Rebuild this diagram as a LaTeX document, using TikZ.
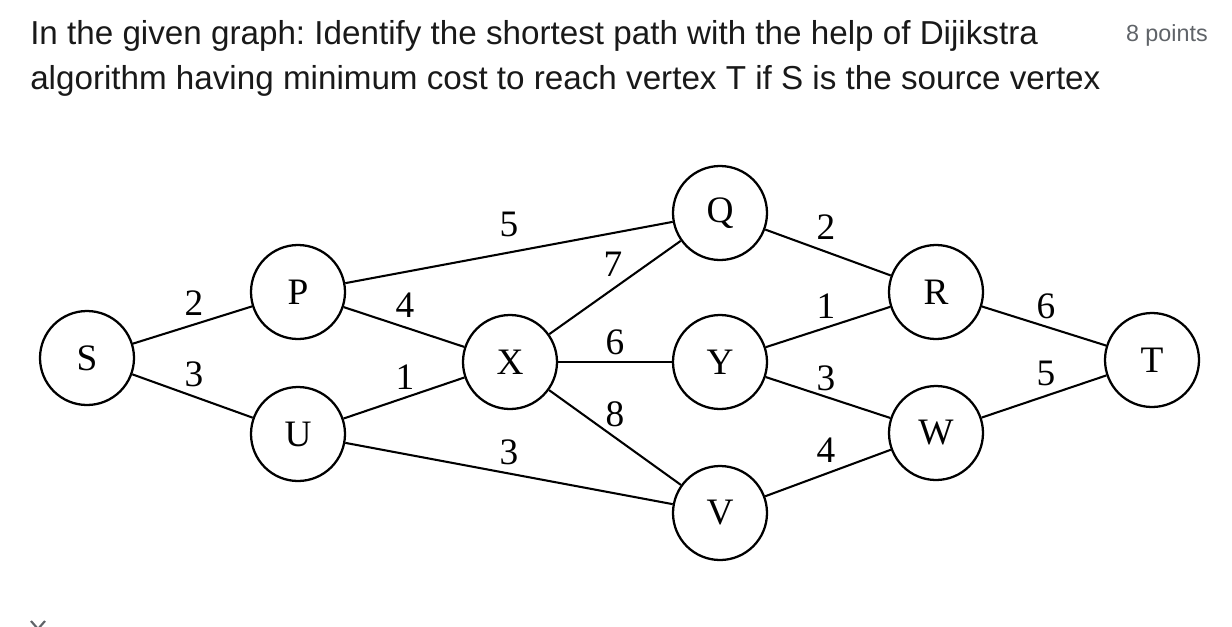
\documentclass[tikz,border=0pt]{standalone}
\usepackage{fontspec}
\setmainfont{Liberation Serif}
\newfontfamily\titlefont{Liberation Sans}
\begin{document}
\frenchspacing
\begin{tikzpicture}[x=0.75pt,y=-0.75pt,
  vertex/.style={circle,draw,line width=1.7pt,minimum size=70.5pt,inner sep=0pt,font=\fontsize{28}{28}\selectfont},
  edge/.style={line width=1.55pt},
  wt/.style={inner sep=0pt,font=\fontsize{28}{28}\selectfont},
  title/.style={anchor=base west,inner sep=0pt,font=\titlefont\fontsize{24.9}{24.9}\selectfont,text=black!90}]
\useasboundingbox (0,0) rectangle (1232,626);
% title
\node[title] (t1) at (30,44) {In the given graph: Identify the shortest path with the help of Dijikstra};
\node[title] (t2) at (30,89) {algorithm having minimum cost to reach vertex T if S is the source vertex};
\node[anchor=base east,inner sep=0pt,font=\titlefont\fontsize{17.5}{17.5}\selectfont,text={rgb,255:red,95;green,99;blue,104}] (pts) at (1208,41) {8 points};
% vertices
\node[vertex] (S) at (87,358) {S};
\node[vertex] (P) at (298,292) {P};
\node[vertex] (U) at (298,434) {U};
\node[vertex] (X) at (510,362) {X};
\node[vertex] (Q) at (720,213) {Q};
\node[vertex] (Y) at (720,362) {Y};
\node[vertex] (V) at (720,513) {V};
\node[vertex] (R) at (936,292) {R};
\node[vertex] (W) at (936,433) {W};
\node[vertex] (T) at (1152,360) {T};
% edges
\draw[edge] (S) -- (P);
\draw[edge] (S) -- (U);
\draw[edge] (P) -- (X);
\draw[edge] (U) -- (X);
\draw[edge] (P) -- (Q);
\draw[edge] (U) -- (V);
\draw[edge] (X) -- (Q);
\draw[edge] (X) -- (Y);
\draw[edge] (X) -- (V);
\draw[edge] (Q) -- (R);
\draw[edge] (Y) -- (R);
\draw[edge] (Y) -- (W);
\draw[edge] (V) -- (W);
\draw[edge] (R) -- (T);
\draw[edge] (W) -- (T);
% weights
\node[wt] (wSP) at (194,303) {2};
\node[wt] (wSU) at (194,374) {3};
\node[wt] (wPX) at (405,305) {4};
\node[wt] (wUX) at (405,377) {1};
\node[wt] (wPQ) at (509,224) {5};
\node[wt] (wXQ) at (613,264) {7};
\node[wt] (wXY) at (615,342) {6};
\node[wt] (wXV) at (615,414) {8};
\node[wt] (wUV) at (509,452) {3};
\node[wt] (wQR) at (826,227) {2};
\node[wt] (wYR) at (826,306) {1};
\node[wt] (wYW) at (826,378) {3};
\node[wt] (wVW) at (826,450) {4};
\node[wt] (wRT) at (1046,306) {6};
\node[wt] (wWT) at (1046,373) {5};
% cut-off chevron at bottom
\draw[line width=1.6pt,draw={rgb,255:red,95;green,99;blue,104}] (31,621) -- (38,629) -- (45,621);
\end{tikzpicture}
\end{document}
